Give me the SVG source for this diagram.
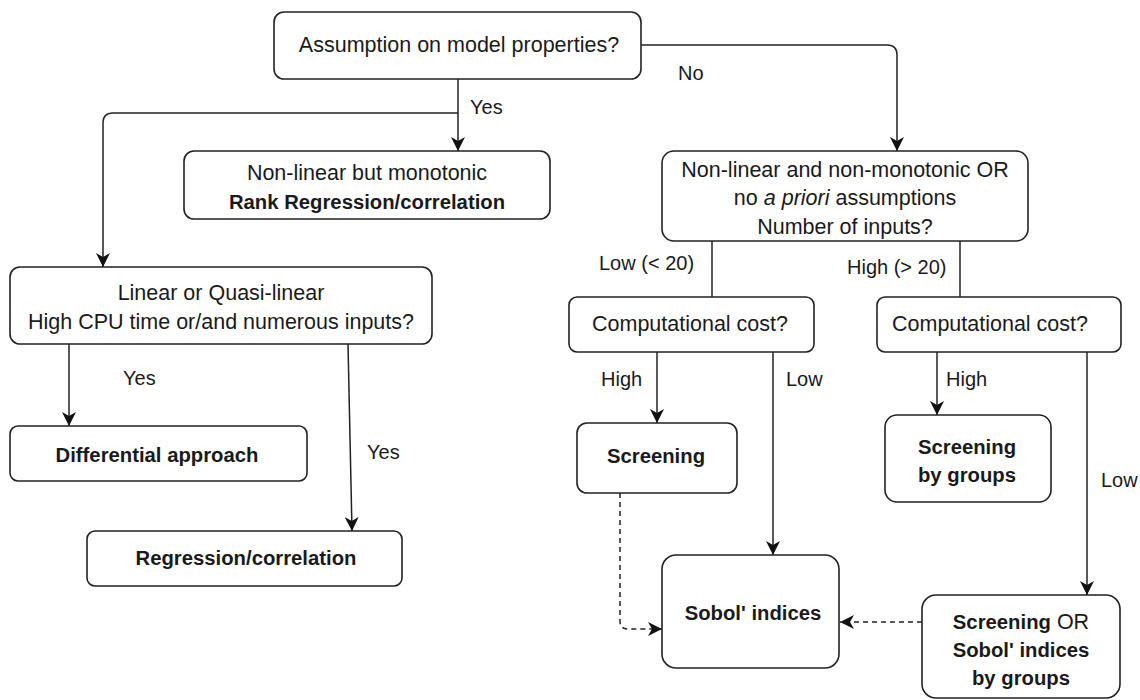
<svg xmlns="http://www.w3.org/2000/svg" width="1140" height="700" viewBox="0 0 1140 700">
<style>
.box{fill:#fff;stroke:#222;stroke-width:1.6}
.t{font-family:"Liberation Sans",Arial,sans-serif;font-size:21.5px;fill:#1a1a1a;text-anchor:middle}
.b{font-weight:bold;font-size:20.3px}
.lbl{font-family:"Liberation Sans",Arial,sans-serif;font-size:20px;fill:#1a1a1a}
.c{fill:none;stroke:#222;stroke-width:1.5}
.d{fill:none;stroke:#222;stroke-width:1.5;stroke-dasharray:5 4}
</style>
<defs>
<marker id="arr" markerUnits="userSpaceOnUse" markerWidth="16" markerHeight="14" refX="14" refY="7" orient="auto">
<path d="M0,0 L14,7 L0,14 L4,7 z" fill="#111"/>
</marker>
</defs>
<rect width="1140" height="700" fill="#fff"/>
<g id="connectors">
<path class="c" d="M641,45 H887 Q897,45 897,55 V151" marker-end="url(#arr)"/>
<path class="c" d="M458,79 V151" marker-end="url(#arr)"/>
<path class="c" d="M458,113 H113 Q103,113 103,123 V267" marker-end="url(#arr)"/>
<path class="c" d="M69,344 V426" marker-end="url(#arr)"/>
<path class="c" d="M348,344 L352,531" marker-end="url(#arr)"/>
<path class="c" d="M712,241 V297"/>
<path class="c" d="M960,241 V297"/>
<path class="c" d="M657,352 V423" marker-end="url(#arr)"/>
<path class="c" d="M773,352 V555" marker-end="url(#arr)"/>
<path class="c" d="M937,352 V415" marker-end="url(#arr)"/>
<path class="c" d="M1087,352 V595" marker-end="url(#arr)"/>
<path class="d" d="M620,493 V621 Q620,629 628,629 H662" marker-end="url(#arr)"/>
<path class="d" d="M922,622 H840" marker-end="url(#arr)"/>
<text class="lbl" x="470" y="114">Yes</text>
<text class="lbl" x="678" y="80">No</text>
<text class="lbl" x="123" y="385">Yes</text>
<text class="lbl" x="367" y="459">Yes</text>
<text class="lbl" x="599" y="270">Low (&lt; 20)</text>
<text class="lbl" x="847" y="274">High (&gt; 20)</text>
<text class="lbl" x="601" y="386">High</text>
<text class="lbl" x="786" y="386">Low</text>
<text class="lbl" x="946" y="386">High</text>
<text class="lbl" x="1101" y="487">Low</text>
</g>
<g id="n-assumption">
<rect class="box" x="274" y="12" width="367" height="67" rx="10"/>
<text class="t" x="459" y="52">Assumption on model properties?</text>
</g>
<g id="n-rank">
<rect class="box" x="184" y="151" width="366" height="68" rx="10"/>
<text class="t" x="367" y="180">Non-linear but monotonic</text>
<text class="t b" x="367" y="209">Rank Regression/correlation</text>
</g>
<g id="n-nonlinear">
<rect class="box" x="662" y="151" width="366" height="90" rx="12"/>
<text class="t" x="845" y="177">Non-linear and non-monotonic OR</text>
<text class="t" x="845" y="205">no <tspan font-style="italic">a priori</tspan> assumptions</text>
<text class="t" x="845" y="234">Number of inputs?</text>
</g>
<g id="n-linear">
<rect class="box" x="10" y="267" width="422" height="77" rx="10"/>
<text class="t" x="221" y="300">Linear or Quasi-linear</text>
<text class="t" x="221" y="329">High CPU time or/and numerous inputs?</text>
</g>
<g id="n-cost-low">
<rect class="box" x="569" y="297" width="245" height="55" rx="8"/>
<text class="t" x="690" y="331">Computational cost?</text>
</g>
<g id="n-cost-high">
<rect class="box" x="877" y="297" width="244" height="55" rx="8"/>
<text class="t" x="990" y="331">Computational cost?</text>
</g>
<g id="n-differential">
<rect class="box" x="10" y="426" width="297" height="55" rx="8"/>
<text class="t b" x="157" y="462">Differential approach</text>
</g>
<g id="n-regression">
<rect class="box" x="87" y="531" width="315" height="55" rx="8"/>
<text class="t b" x="246" y="565">Regression/correlation</text>
</g>
<g id="n-screening">
<rect class="box" x="577" y="423" width="160" height="70" rx="10"/>
<text class="t b" x="656" y="463">Screening</text>
</g>
<g id="n-screening-groups">
<rect class="box" x="885" y="415" width="166" height="87" rx="12"/>
<text class="t b" x="967" y="454">Screening</text>
<text class="t b" x="967" y="482">by groups</text>
</g>
<g id="n-sobol">
<rect class="box" x="662" y="555" width="177" height="113" rx="14"/>
<text class="t b" x="753" y="620">Sobol' indices</text>
</g>
<g id="n-screening-or">
<rect class="box" x="922" y="595" width="198" height="103" rx="14"/>
<text class="t" x="1021" y="629"><tspan font-weight="bold" font-size="20.3">Screening</tspan> OR</text>
<text class="t b" x="1021" y="657">Sobol' indices</text>
<text class="t b" x="1021" y="685">by groups</text>
</g>
</svg>
